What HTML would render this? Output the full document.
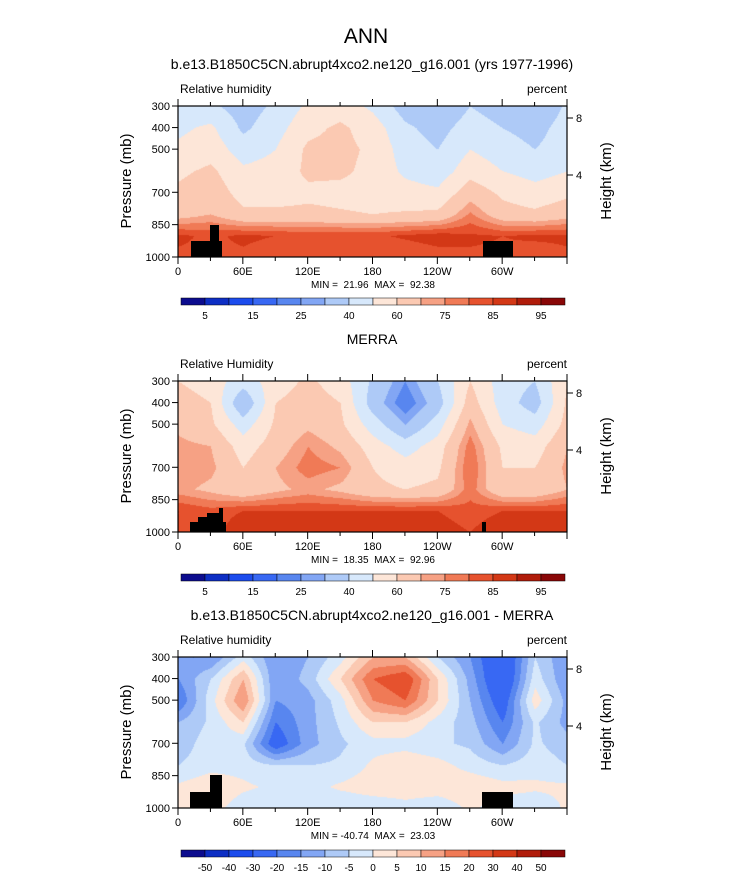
<!DOCTYPE html>
<html><head><meta charset="utf-8">
<style>
body{margin:0;background:#fff;}
#wrap{position:relative;width:733px;height:873px;overflow:hidden;font-family:"Liberation Sans",sans-serif;}
canvas{position:absolute;}
svg{position:absolute;left:0;top:0;}
text{white-space:pre;}
</style></head>
<body>
<div id="wrap">
<canvas id="c0" width="389" height="151" style="left:178px;top:106px"></canvas>
<canvas id="c1" width="389" height="151" style="left:178px;top:381px"></canvas>
<canvas id="c2" width="389" height="151" style="left:178px;top:657px"></canvas>
<svg id="svg" width="733" height="873"></svg>
</div>
<script>
const lons=[0,30,60,90,120,150,180,210,240,270,300,330,360];
const levels=[300,400,500,600,700,800,900,1000];
const rhControl=[
[45,42,35,42,52,55,48,35,30,40,35,30,42],
[48,52,38,46,57,62,55,42,36,45,40,36,45],
[52,56,45,50,62,63,58,45,40,50,45,40,46],
[58,62,52,54,62,62,57,48,44,56,50,46,50],
[62,66,56,56,58,57,56,54,52,66,58,54,58],
[66,70,62,62,62,61,60,61,62,76,64,62,66],
[86,84,86,85,84,84,84,86,88,86,85,86,86],
[84,84,84,82,82,82,80,80,82,84,84,82,84]];
const rhMerra=[
[60,55,45,55,62,55,38,25,40,60,45,40,60],
[65,60,30,60,65,60,35,20,35,65,45,35,62],
[68,62,45,62,68,62,45,30,45,72,50,45,64],
[72,70,55,65,75,68,55,45,55,78,58,55,70],
[75,72,60,70,78,75,60,55,58,80,60,60,72],
[72,68,62,68,72,68,62,60,62,78,62,62,70],
[85,82,85,85,85,85,85,85,85,82,85,85,85],
[85,82,90,90,90,90,88,88,88,85,90,90,85]];
const rhDiff=[
[-15,-15,-2,-15,-10,-2,10,10,-5,-15,-30,-5,-15],
[-15,-5,10,-15,-8,5,20,25,5,-12,-30,-2,-15],
[-20,-2,15,-15,-12,-2,15,20,5,-10,-25,3,-12],
[-10,-4,5,-20,-12,-4,5,5,-2,-8,-20,-4,-12],
[-8,-2,-4,-25,-12,-6,-2,-2,-4,-6,-15,-4,-8],
[-5,-2,-2,-5,-5,-4,1,4,2,-2,-5,-2,-5],
[1,4,1,-1,-2,1,3,3,3,4,2,1,1],
[1,2,-3,-5,-5,-5,-4,-2,-4,1,-3,-4,1]];
const rhLevels=[5,10,15,20,25,30,40,50,60,70,75,80,85,90,95];
const diffLevels=[-50,-40,-30,-20,-15,-10,-5,0,5,10,15,20,30,40,50];
const rhLabels=["5","15","25","40","60","75","85","95"];
const diffLabels=["-50","-40","-30","-20","-15","-10","-5","0","5","10","15","20","30","40","50"];
const lonTicks=["0","60E","120E","180","120W","60W"];
const pTicks=[300,400,500,700,850,1000];
const colors=['#0c0c8e','#0d2ec4','#1c4ced','#3868f3','#5886ef','#82a6f4','#aecaf7','#d7e8fb','#fde6d8','#fbc9b2','#f6a184','#f07a56','#e6522e','#d33816','#b01c0a','#890707'];

const W=389,H=151;
function xOf(lon){return lon/360*W;}
function yOf(p){return (p-300)/700*H;}
function draw(id,grid,lv){
  const cv=document.getElementById(id),ctx=cv.getContext('2d');
  const img=ctx.createImageData(W,H);
  const rgb=colors.map(c=>[parseInt(c.substr(1,2),16),parseInt(c.substr(3,2),16),parseInt(c.substr(5,2),16)]);
  for(let py=0;py<H;py++){
    const p=300+py/H*700;
    let r=0;while(r<levels.length-2&&levels[r+1]<p)r++;
    const fy=Math.min(1,Math.max(0,(p-levels[r])/(levels[r+1]-levels[r])));
    for(let px=0;px<W;px++){
      const lon=px/W*360;
      let c=Math.min(11,Math.floor(lon/30));
      const fx=(lon-lons[c])/30;
      const v=(grid[r][c]*(1-fx)+grid[r][c+1]*fx)*(1-fy)+(grid[r+1][c]*(1-fx)+grid[r+1][c+1]*fx)*fy;
      let k=0;while(k<lv.length&&v>=lv[k])k++;
      const o=(py*W+px)*4;img.data[o]=rgb[k][0];img.data[o+1]=rgb[k][1];img.data[o+2]=rgb[k][2];img.data[o+3]=255;
    }
  }
  ctx.putImageData(img,0,0);
}
draw('c0',rhControl,rhLevels);draw('c1',rhMerra,rhLevels);draw('c2',rhDiff,diffLevels);

const svg=document.getElementById('svg');const NS='http://www.w3.org/2000/svg';
function el(tag,attrs,text){const e=document.createElementNS(NS,tag);for(const k in attrs)e.setAttribute(k,attrs[k]);if(text!==undefined)e.textContent=text;svg.appendChild(e);return e;}
function txt(x,y,s,size,anchor,name,rot){const e=el('text',{x:x,y:y,'font-size':size,'text-anchor':anchor||'start',fill:'#000'},s);if(rot)e.setAttribute('transform','rotate(-90 '+x+' '+y+')');

return e;}

txt(366,43,'ANN',21,'middle','main-title');
const panels=[
 {top:106,title:'b.e13.B1850C5CN.abrupt4xco2.ne120_g16.001 (yrs 1977-1996)',left:'Relative humidity',mm:'MIN =  21.96  MAX =  92.38',cb:298,labels:rhLabels,every:2,topo:[[191,241,31,16],[210,225,9,16],[483,241,30,16]]},
 {top:381,title:'MERRA',left:'Relative Humidity',mm:'MIN =  18.35  MAX =  92.96',cb:574,labels:rhLabels,every:2,topo:[[190,522,36,10],[198,517,24,6],[207,513,12,5],[219,508,4,14],[482,522,4,10]]},
 {top:657,title:'b.e13.B1850C5CN.abrupt4xco2.ne120_g16.001 - MERRA',left:'Relative humidity',mm:'MIN = -40.74  MAX =  23.03',cb:850,labels:diffLabels,every:1,topo:[[190,792,32,16],[210,775,12,18],[482,792,31,16]]}
];
panels.forEach((P,i)=>{
  const t=P.top,b=t+H,L=178,R=567;
  txt(372,t-37,P.title,14,'middle','panel-'+i+'-title');
  txt(180,t-13,P.left,12,'start','panel-'+i+'-variable-label');
  txt(567,t-13,'percent',12,'end','panel-'+i+'-units-label');
  P.topo.forEach((r,j)=>{const e=el('rect',{x:r[0],y:r[1],width:r[2],height:r[3],fill:'#000'});
  
  });
  const fr=el('rect',{x:L,y:t,width:R-L,height:H,fill:'none',stroke:'#000','stroke-width':1.2});
  
  
  for(let lon=0;lon<=360;lon+=30){const x=L+xOf(lon);const len=lon%60==0?7:4;
    el('line',{x1:x,y1:b,x2:x,y2:b+len,stroke:'#000'});el('line',{x1:x,y1:t,x2:x,y2:t-len,stroke:'#000'});}
  lonTicks.forEach((s,k)=>txt(L+xOf(k*60),b+18,s,11,'middle','x-tick-label'));
  pTicks.forEach(p=>{const y=t+yOf(p);el('line',{x1:L,y1:y,x2:L-6,y2:y,stroke:'#000'});txt(L-8,y+4,String(p),11,'end','y-tick-label');});
  [[8,12],[4,69]].forEach(h=>{const y=t+h[1];el('line',{x1:R,y1:y,x2:R+6,y2:y,stroke:'#000'});txt(R+9,y+4,String(h[0]),11,'start','right-tick-label');});
  txt(131,t+75,'Pressure (mb)',15,'middle','y-axis-title',true);
  txt(611,t+75,'Height (km)',15,'middle','right-axis-title',true);
  txt(373,b+31,P.mm,10,'middle','panel-'+i+'-min-max');
  const cx=181,cw=24;
  colors.forEach((c,k)=>{const e=el('rect',{x:cx+k*cw,y:P.cb,width:cw,height:7,fill:c,stroke:'#000','stroke-width':0.5});
  
  });
  P.labels.forEach((s,k)=>{const bi=P.every==2?1+2*k:1+k;txt(cx+bi*cw,P.cb+21,s,10,'middle','colorbar-label');});
});
</script>
</body></html>
